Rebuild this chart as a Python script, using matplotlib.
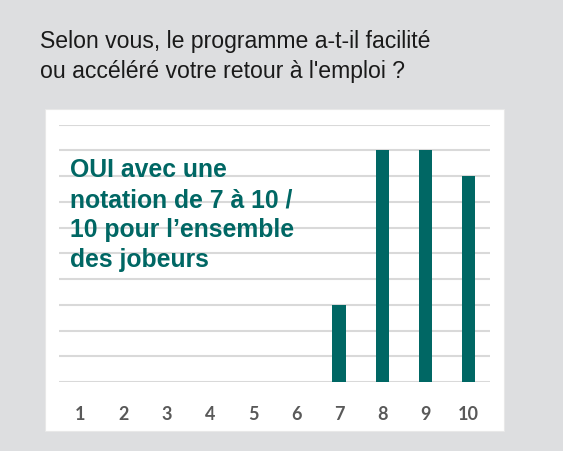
import matplotlib
matplotlib.use("Agg")
import matplotlib.pyplot as plt
from matplotlib.patches import Rectangle

categories = ["1", "2", "3", "4", "5", "6", "7", "8", "9", "10"]
values = [0, 0, 0, 0, 0, 0, 3, 9, 9, 8]
title_lines = ["Selon vous, le programme a-t-il facilité",
               "ou accéléré votre retour à l'emploi ?"]
note_lines = ["OUI avec une", "notation de 7 à 10 /",
              "10 pour l’ensemble", "des jobeurs"]

W, H = 563, 452
fig = plt.figure(figsize=(W / 100, H / 100), dpi=100)
fig.patch.set_facecolor("#dddee0")

# white panel
fig.patches.append(Rectangle((45 / W, 1 - 432 / H), 459 / W, 322 / H,
                             transform=fig.transFigure, facecolor="white",
                             edgecolor="#e8e8e8", linewidth=0.8, zorder=-5))

ax = fig.add_axes([59 / W, 1 - 383 / H, 431 / W, (383 - 125.7) / H])
ax.set_zorder(2)
ax.set_facecolor("none")
x = list(range(1, len(categories) + 1))
ax.bar(x, values, width=0.31, color="#006764", zorder=3)
ax.set_xlim(0.5, len(categories) + 0.5)
ax.set_ylim(0, 10)
ax.set_yticks(range(0, 11))
ax.yaxis.grid(True, color="#d9d9d9", linewidth=1.5, zorder=0)
ax.set_axisbelow(True)
ax.tick_params(axis="y", left=False, labelleft=False)
ax.tick_params(axis="x", bottom=False, pad=13)
ax.set_xticks(x)
ax.set_xticklabels(categories, fontfamily="Lato", fontweight="bold",
                   fontsize=13, color="#595959")
for s in ax.spines.values():
    s.set_visible(False)

for i, line in enumerate(title_lines):
    fig.text(40 / W, 1 - (48 + 30 * i) / H, line, fontfamily="Liberation Sans",
             fontsize=16.6, color="#1a1a1a", va="baseline", ha="left")

for i, line in enumerate(note_lines):
    fig.text(70 / W, 1 - (177.3 + 30 * i) / H, line, fontfamily="Liberation Sans",
             fontweight="bold", fontsize=17.8, color="#006764",
             va="baseline", ha="left", zorder=10)

fig.savefig("out.png", dpi=100, facecolor=fig.get_facecolor())
